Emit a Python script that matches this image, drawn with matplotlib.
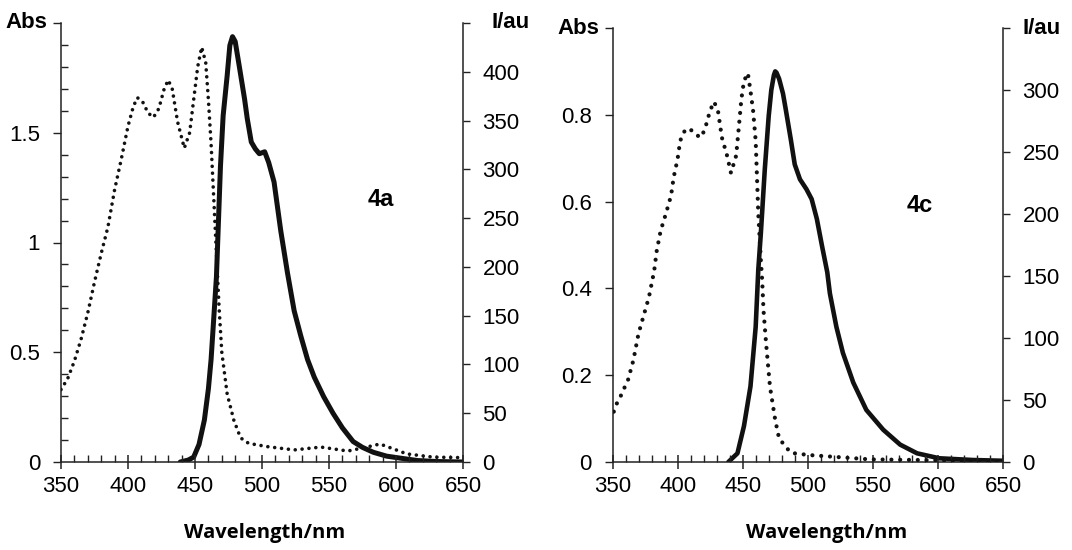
import matplotlib
matplotlib.use('Agg')
import matplotlib.pyplot as plt
from matplotlib.ticker import MultipleLocator, FuncFormatter

# ---------------- data: compound 4a ----------------
abs_4a_wl = [350, 355, 360, 365, 370, 375, 380, 385, 390, 395, 400, 404, 407, 411, 415, 419, 423, 427, 430, 433,
             437, 442, 446, 449, 452, 455, 458, 460, 462, 464, 466, 468, 470, 474, 479, 484, 490,
             504, 524, 544, 564, 576, 588, 598, 608, 628, 650]
abs_4a = [0.33, 0.38, 0.46, 0.56, 0.68, 0.82, 0.95, 1.07, 1.24, 1.38, 1.53, 1.62, 1.66, 1.64, 1.59, 1.57, 1.61, 1.70,
          1.74, 1.70, 1.55, 1.43, 1.50, 1.65, 1.80, 1.89, 1.82, 1.65, 1.45, 1.20, 0.95, 0.70, 0.50, 0.31, 0.19,
          0.11, 0.085, 0.07, 0.055, 0.068, 0.05, 0.065, 0.082, 0.06, 0.037, 0.022, 0.02]

em_4a_wl = [439, 445, 449, 453, 457, 460, 462, 466, 469, 471, 474, 476, 478, 480, 483, 487, 489, 492, 495,
            498, 502, 505, 509, 514, 519, 524, 529, 534, 539, 546, 553, 560, 568, 575, 583, 593, 603, 616, 630, 650]
em_4a = [0, 2, 5, 18, 43, 75, 105, 190, 303, 355, 396, 427, 436, 431, 406, 372, 352, 328, 321,
         316, 318, 307, 287, 237, 194, 155, 129, 105, 87, 67, 50, 35, 21, 15, 10, 6, 4, 1.5, 0.5, 0]

# ---------------- data: compound 4c ----------------
abs_4c_wl = [351, 353, 356, 362, 366, 370, 374, 378, 382, 384, 387, 391, 395, 397, 400, 402, 405, 409, 414,
             418, 421, 425, 428, 431, 434, 438, 441, 445, 447, 449, 451, 454, 456, 458, 460, 461, 462, 464,
             465, 466, 468, 471, 475, 478, 487, 501, 520, 548, 576, 647, 650]
abs_4c = [0.116, 0.133, 0.15, 0.19, 0.234, 0.296, 0.338, 0.38, 0.44, 0.487, 0.533, 0.572, 0.614, 0.656, 0.698, 0.74,
          0.761, 0.769, 0.754, 0.748, 0.767, 0.81, 0.83, 0.81, 0.748, 0.706, 0.666, 0.706, 0.77, 0.836, 0.878,
          0.896, 0.855, 0.81, 0.74, 0.656, 0.572, 0.464, 0.418, 0.35, 0.273, 0.173, 0.097, 0.054, 0.021, 0.016,
          0.012, 0.006, 0.005, 0.002, 0.002]

em_4c_wl = [439, 446, 451, 456, 460, 462, 464, 467, 470, 472, 474, 475, 476, 478, 481, 483, 487, 490, 494,
            499, 503, 507, 511, 515, 517, 522, 527, 535, 545, 558, 571, 584, 601, 627, 650]
em_4c = [0, 7, 29, 61, 109, 155, 185, 236, 279, 300, 312, 315, 314, 309, 297, 285, 260, 240, 228,
         220, 212, 196, 174, 153, 136, 109, 88, 64, 42, 26, 14, 7, 3, 1.6, 1]

x_range = (350, 650)
abs_lim_4a, int_lim_4a = (0, 2.0), (0, 450)
abs_lim_4c, int_lim_4c = (0, 1.0), (0, 350)

plt.rcParams['font.family'] = ['Liberation Sans', 'DejaVu Sans']
INK = '#111111'
SP = '#222222'
TICKFS = 16
LABFS = 16

fig = plt.figure(figsize=(10.72, 5.5), dpi=100)


def panel(rect, wa, a, we, e, alim, ilim, amaj, amin, imaj,
          dlw, dpat, slw, tag, tagxy, top_a, top_i, iau_x, abs_x):
    ax = fig.add_axes(rect)
    ax2 = ax.twinx()
    ax2.plot(we, e, color=INK, lw=slw, solid_capstyle='round', solid_joinstyle='round', zorder=2)
    ax.plot(wa, a, color=INK, lw=dlw, linestyle=(0, dpat), dash_capstyle='round', zorder=3)
    ax.set_zorder(ax2.get_zorder() + 1)
    ax.patch.set_visible(False)
    ax.set_xlim(*x_range)
    ax.set_ylim(*alim)
    ax2.set_ylim(*ilim)

    for s in ['top', 'right']:
        ax.spines[s].set_visible(False)
    for s in ['top', 'left', 'bottom']:
        ax2.spines[s].set_visible(False)
    for s in ['left', 'bottom']:
        ax.spines[s].set_color(SP)
        ax.spines[s].set_linewidth(1.1)
    ax2.spines['right'].set_color(SP)
    ax2.spines['right'].set_linewidth(1.1)

    ax.xaxis.set_major_locator(MultipleLocator(50))
    ax.xaxis.set_minor_locator(MultipleLocator(10))
    ax.yaxis.set_major_locator(MultipleLocator(amaj))
    if amin:
        ax.yaxis.set_minor_locator(MultipleLocator(amin))
    ax2.yaxis.set_major_locator(MultipleLocator(imaj))
    ax.yaxis.set_major_formatter(FuncFormatter(lambda v, p: '' if abs(v - top_a) < 1e-9 else '%g' % v))
    ax2.yaxis.set_major_formatter(FuncFormatter(lambda v, p: '' if abs(v - top_i) < 1e-9 else '%g' % v))

    ax.tick_params(axis='x', which='major', direction='inout', length=10, width=1.1,
                   color=SP, labelsize=TICKFS, pad=5)
    ax.tick_params(axis='x', which='minor', direction='in', length=5, width=1.0, color=SP)
    ax.tick_params(axis='y', which='major', direction='out', length=6, width=1.0,
                   color=SP, labelsize=TICKFS, pad=9)
    ax.tick_params(axis='y', which='minor', direction='in', length=5, width=1.0, color=SP)
    ax2.tick_params(axis='y', which='major', direction='out', length=5, width=1.0,
                    color=SP, labelsize=TICKFS, pad=9)

    ax.text(abs_x, 1.0, 'Abs', transform=ax.transAxes, ha='right', va='center',
            fontsize=LABFS, fontweight='bold')
    ax.text(iau_x, 1.0, 'I/au', transform=ax.transAxes, ha='left', va='center',
            fontsize=LABFS, fontweight='bold')
    ax.text(tagxy[0], tagxy[1], tag, transform=ax.transAxes, ha='center', va='center',
            fontsize=17, fontweight='bold')
    return ax


panel([61 / 1072, 1 - 462 / 550, 402 / 1072, 439 / 550], abs_4a_wl, abs_4a, em_4a_wl, em_4a,
      abs_lim_4a, int_lim_4a, 0.5, 0.1, 50, 2.6, (0.01, 1.9), 3.6, '4a', (0.796, 0.597), 2.0, 450,
      1.072, -0.035)
panel([612.5 / 1072, 1 - 462 / 550, 390.5 / 1072, 434 / 550], abs_4c_wl, abs_4c, em_4c_wl, em_4c,
      abs_lim_4c, int_lim_4c, 0.2, None, 50, 3.0, (0.01, 2.1), 3.3, '4c', (0.787, 0.59), 1.0, 350,
      1.05, -0.035)

fig.text(265 / 1072, 1 - 533 / 550, 'Wavelength/nm', ha='center', va='center',
         fontsize=14.5, fontweight='bold', family=['Open Sans', 'DejaVu Sans'])
fig.text(827 / 1072, 1 - 533 / 550, 'Wavelength/nm', ha='center', va='center',
         fontsize=14.5, fontweight='bold', family=['Open Sans', 'DejaVu Sans'])

fig.savefig('out.png', dpi=100)
